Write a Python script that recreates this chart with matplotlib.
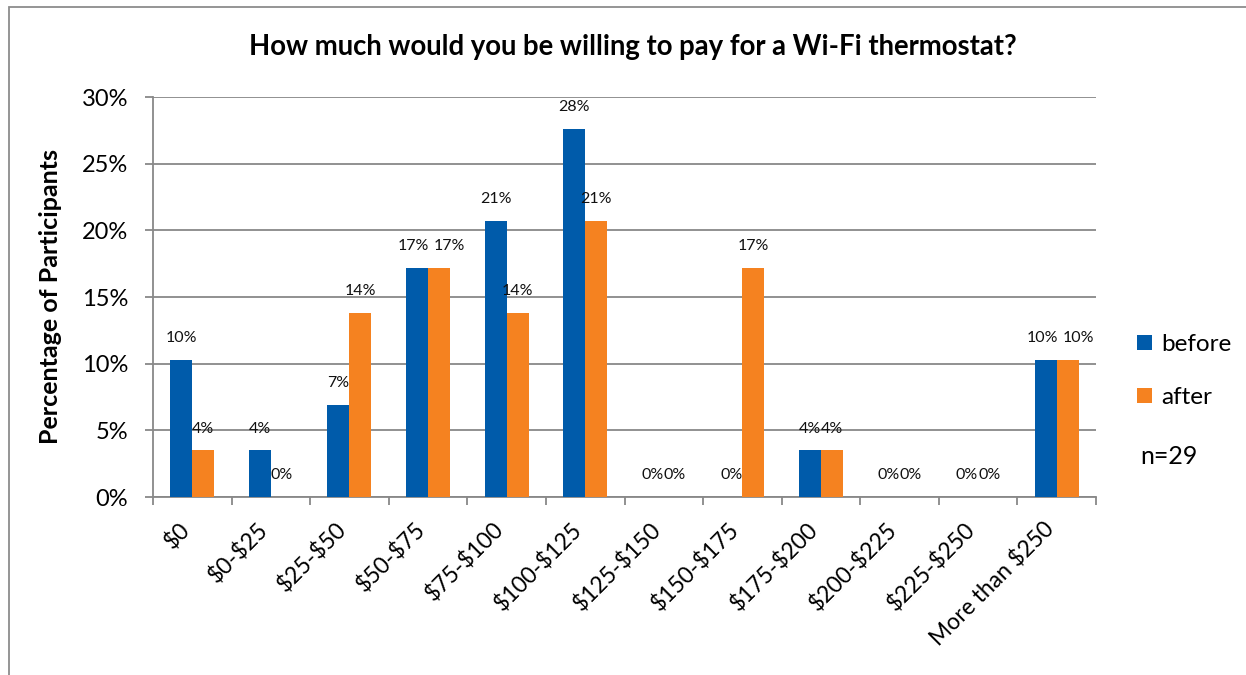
import matplotlib.pyplot as plt
from matplotlib.patches import Rectangle
from matplotlib.transforms import ScaledTranslation
import numpy as np

plt.rcParams['font.family'] = ['Lato', 'DejaVu Sans']

categories = ['$0', '$0-$25', '$25-$50', '$50-$75', '$75-$100', '$100-$125',
              '$125-$150', '$150-$175', '$175-$200', '$200-$225', '$225-$250',
              'More than $250']
before = [10.3, 3.5, 6.9, 17.2, 20.7, 27.6, 0.0, 0.0, 3.5, 0.0, 0.0, 10.3]
after = [3.5, 0.0, 13.8, 17.2, 13.8, 20.7, 0.0, 17.2, 3.5, 0.0, 0.0, 10.3]
series_names = ['before', 'after']
n_label = 'n=29'
title = 'How much would you be willing to pay for a Wi-Fi thermostat?'
ylabel = 'Percentage of Participants'

blue = '#005BAA'
orange = '#F58220'
grid_gray = '#888888'

W, H = 1246, 675
fig = plt.figure(figsize=(W / 100, H / 100), dpi=100)
ax = fig.add_axes([153 / W, 1 - 497 / H, (1096 - 153) / W, 400 / H])

# outer chart border (only left/top visible in the picture)
fig.patches.append(Rectangle((9 / W, -0.1), 1.2, 1.1 - 7 / H, transform=fig.transFigure,
                             fill=False, edgecolor='#8c8c8c', lw=1.3))

x = np.arange(len(categories)) + 0.5
bw = 0.28
b1 = ax.bar(x - bw / 2, before, bw, color=blue, zorder=3, label=series_names[0])
b2 = ax.bar(x + bw / 2, after, bw, color=orange, zorder=3, label=series_names[1])


def pct(v):
    return f'{int(v + 0.5)}%'


for i, (vb, va) in enumerate(zip(before, after)):
    # excel nudges two wide labels apart when they sit side by side
    clash = pct(vb) == pct(va) and len(pct(vb)) > 2
    dxb, dxa = (-2.5, 7.5) if clash else (0, 0)
    for rect, v, dx in ((b1[i], vb, dxb), (b2[i], va, dxa)):
        ax.annotate(pct(v), (rect.get_x() + rect.get_width() / 2, v),
                    xytext=(dx, 15.5), textcoords='offset points',
                    ha='center', va='center', fontsize=11.5, color='#111111')

ax.set_xlim(0, len(categories))
ax.set_ylim(0, 30)
ax.set_yticks(np.arange(0, 31, 5))
ax.set_yticklabels([f'{t}%' for t in range(0, 31, 5)], fontsize=17)
ax.yaxis.grid(True, color=grid_gray, lw=1.3, zorder=0)
ax.set_axisbelow(True)

ax.set_xticks(np.arange(len(categories) + 1))
ax.set_xticklabels([])
ax.set_xticks(x, minor=True)
ax.set_xticklabels([c.replace('$', r'\$') for c in categories], minor=True,
                   rotation=45, ha='right', va='center', rotation_mode='anchor', fontsize=16.5)
ax.tick_params(axis='x', which='minor', length=0, pad=21)
ax.tick_params(axis='x', which='major', length=6, color=grid_gray, width=1.3)
ax.tick_params(axis='y', length=6, color=grid_gray, width=1.3, pad=12)
shift = ScaledTranslation(-0.06, 0, fig.dpi_scale_trans)
for lbl in ax.get_xticklabels(minor=True):
    lbl.set_transform(lbl.get_transform() + shift)

for s in ('top', 'right'):
    ax.spines[s].set_visible(False)
for s in ('left', 'bottom'):
    ax.spines[s].set_color(grid_gray)
    ax.spines[s].set_linewidth(1.3)

ax.set_ylabel(ylabel, fontsize=18, fontweight='bold')
ax.yaxis.set_label_coords((62 - 153) / 943, 0.5)
fig.text(633 / W, 1 - 47 / H, title, ha='center', va='center', fontsize=19.8, fontweight='bold')

ax.legend(loc='center left', bbox_to_anchor=(1137 / W, 1 - 371 / H),
          bbox_transform=fig.transFigure, frameon=False, fontsize=17.5,
          borderpad=0, borderaxespad=0,
          handlelength=0.6, handleheight=0.6, handletextpad=0.4, labelspacing=1.3)
fig.text(1140 / W, 1 - 456 / H, n_label, ha='left', va='center', fontsize=18)

fig.savefig('out.png', dpi=100)
